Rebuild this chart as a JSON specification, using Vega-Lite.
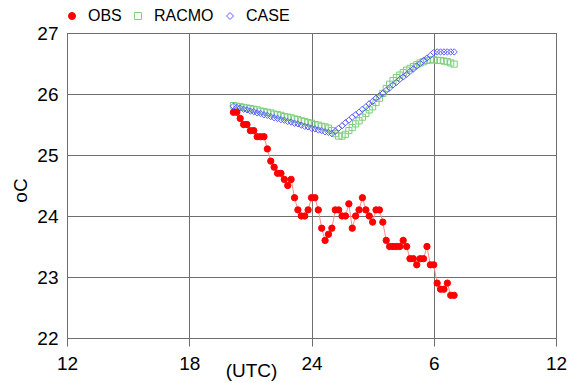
{
  "$schema": "https://vega.github.io/schema/vega-lite/v6.json",
  "width": 489,
  "height": 305,
  "autosize": {"type": "none"},
  "padding": {"left": 67, "top": 33, "right": 13, "bottom": 45},
  "background": "white",
  "config": {
    "font": "Liberation Sans",
    "view": {"stroke": "#555555", "strokeWidth": 1},
    "axis": {"labelColor": "#000000", "titleColor": "#000000", "titleFontWeight": "normal", "labelFontSize": 19, "titleFontSize": 19, "gridColor": "#6e6e6e", "gridOpacity": 1, "gridWidth": 1, "tickColor": "#6e6e6e", "domain": false, "labelFlush": false, "labelOverlap": false, "labelBound": false}
  },
  "data": {
    "values": [
      {"h": 20.167, "OBS": 25.7, "RACMO": 25.81, "CASE": 25.80},
      {"h": 20.333, "OBS": 25.7, "RACMO": 25.80, "CASE": 25.78},
      {"h": 20.5, "OBS": 25.6, "RACMO": 25.79, "CASE": 25.77},
      {"h": 20.667, "OBS": 25.5, "RACMO": 25.78, "CASE": 25.75},
      {"h": 20.833, "OBS": 25.5, "RACMO": 25.77, "CASE": 25.74},
      {"h": 21.0, "OBS": 25.4, "RACMO": 25.76, "CASE": 25.72},
      {"h": 21.167, "OBS": 25.4, "RACMO": 25.75, "CASE": 25.71},
      {"h": 21.333, "OBS": 25.3, "RACMO": 25.74, "CASE": 25.69},
      {"h": 21.5, "OBS": 25.3, "RACMO": 25.72, "CASE": 25.68},
      {"h": 21.667, "OBS": 25.3, "RACMO": 25.71, "CASE": 25.66},
      {"h": 21.833, "OBS": 25.1, "RACMO": 25.70, "CASE": 25.65},
      {"h": 22.0, "OBS": 24.9, "RACMO": 25.69, "CASE": 25.63},
      {"h": 22.167, "OBS": 24.8, "RACMO": 25.67, "CASE": 25.61},
      {"h": 22.333, "OBS": 24.7, "RACMO": 25.66, "CASE": 25.60},
      {"h": 22.5, "OBS": 24.7, "RACMO": 25.65, "CASE": 25.58},
      {"h": 22.667, "OBS": 24.6, "RACMO": 25.63, "CASE": 25.57},
      {"h": 22.833, "OBS": 24.5, "RACMO": 25.62, "CASE": 25.55},
      {"h": 23.0, "OBS": 24.6, "RACMO": 25.61, "CASE": 25.54},
      {"h": 23.167, "OBS": 24.3, "RACMO": 25.59, "CASE": 25.52},
      {"h": 23.333, "OBS": 24.1, "RACMO": 25.58, "CASE": 25.51},
      {"h": 23.5, "OBS": 24.0, "RACMO": 25.56, "CASE": 25.49},
      {"h": 23.667, "OBS": 24.0, "RACMO": 25.55, "CASE": 25.47},
      {"h": 23.833, "OBS": 24.1, "RACMO": 25.53, "CASE": 25.46},
      {"h": 24.0, "OBS": 24.3, "RACMO": 25.52, "CASE": 25.44},
      {"h": 24.167, "OBS": 24.3, "RACMO": 25.50, "CASE": 25.43},
      {"h": 24.333, "OBS": 24.1, "RACMO": 25.49, "CASE": 25.41},
      {"h": 24.5, "OBS": 23.8, "RACMO": 25.47, "CASE": 25.40},
      {"h": 24.667, "OBS": 23.6, "RACMO": 25.46, "CASE": 25.38},
      {"h": 24.833, "OBS": 23.7, "RACMO": 25.44, "CASE": 25.37},
      {"h": 25.0, "OBS": 23.8, "RACMO": 25.40, "CASE": 25.35},
      {"h": 25.167, "OBS": 24.1, "RACMO": 25.35, "CASE": 25.39},
      {"h": 25.333, "OBS": 24.1, "RACMO": 25.31, "CASE": 25.44},
      {"h": 25.5, "OBS": 24.0, "RACMO": 25.31, "CASE": 25.48},
      {"h": 25.667, "OBS": 24.0, "RACMO": 25.34, "CASE": 25.53},
      {"h": 25.833, "OBS": 24.2, "RACMO": 25.40, "CASE": 25.57},
      {"h": 26.0, "OBS": 23.8, "RACMO": 25.45, "CASE": 25.62},
      {"h": 26.167, "OBS": 24.0, "RACMO": 25.51, "CASE": 25.66},
      {"h": 26.333, "OBS": 24.1, "RACMO": 25.56, "CASE": 25.70},
      {"h": 26.5, "OBS": 24.3, "RACMO": 25.62, "CASE": 25.75},
      {"h": 26.667, "OBS": 24.1, "RACMO": 25.68, "CASE": 25.79},
      {"h": 26.833, "OBS": 24.0, "RACMO": 25.74, "CASE": 25.84},
      {"h": 27.0, "OBS": 23.9, "RACMO": 25.79, "CASE": 25.88},
      {"h": 27.167, "OBS": 24.1, "RACMO": 25.86, "CASE": 25.93},
      {"h": 27.333, "OBS": 24.1, "RACMO": 25.93, "CASE": 25.97},
      {"h": 27.5, "OBS": 23.9, "RACMO": 26.01, "CASE": 26.01},
      {"h": 27.667, "OBS": 23.6, "RACMO": 26.09, "CASE": 26.06},
      {"h": 27.833, "OBS": 23.5, "RACMO": 26.16, "CASE": 26.10},
      {"h": 28.0, "OBS": 23.5, "RACMO": 26.22, "CASE": 26.15},
      {"h": 28.167, "OBS": 23.5, "RACMO": 26.27, "CASE": 26.19},
      {"h": 28.333, "OBS": 23.5, "RACMO": 26.31, "CASE": 26.24},
      {"h": 28.5, "OBS": 23.6, "RACMO": 26.35, "CASE": 26.28},
      {"h": 28.667, "OBS": 23.5, "RACMO": 26.39, "CASE": 26.32},
      {"h": 28.833, "OBS": 23.3, "RACMO": 26.42, "CASE": 26.37},
      {"h": 29.0, "OBS": 23.3, "RACMO": 26.45, "CASE": 26.41},
      {"h": 29.167, "OBS": 23.2, "RACMO": 26.48, "CASE": 26.46},
      {"h": 29.333, "OBS": 23.3, "RACMO": 26.51, "CASE": 26.50},
      {"h": 29.5, "OBS": 23.3, "RACMO": 26.53, "CASE": 26.55},
      {"h": 29.667, "OBS": 23.5, "RACMO": 26.55, "CASE": 26.59},
      {"h": 29.833, "OBS": 23.2, "RACMO": 26.56, "CASE": 26.63},
      {"h": 30.0, "OBS": 23.2, "RACMO": 26.56, "CASE": 26.68},
      {"h": 30.167, "OBS": 22.9, "RACMO": 26.55, "CASE": 26.69},
      {"h": 30.333, "OBS": 22.8, "RACMO": 26.55, "CASE": 26.69},
      {"h": 30.5, "OBS": 22.8, "RACMO": 26.54, "CASE": 26.69},
      {"h": 30.667, "OBS": 22.9, "RACMO": 26.53, "CASE": 26.69},
      {"h": 30.833, "OBS": 22.7, "RACMO": 26.51, "CASE": 26.69},
      {"h": 31.0, "OBS": 22.7, "RACMO": 26.49, "CASE": 26.69}
    ]
  },
  "transform": [{"fold": ["OBS", "RACMO", "CASE"], "as": ["series", "temp"]}],
  "encoding": {
    "x": {
      "field": "h", "type": "quantitative",
      "scale": {"domain": [12, 36], "nice": false, "zero": false},
      "axis": {"values": [12, 18, 24, 30, 36], "labelExpr": "datum.value > 24 ? datum.value - 24 : datum.value", "grid": true, "tickSize": 8, "labelPadding": 8, "title": "(UTC)", "titleX": 184, "titleY": 38, "titleAlign": "center", "titleBaseline": "alphabetic"}
    },
    "y": {
      "field": "temp", "type": "quantitative",
      "scale": {"domain": [22, 27], "nice": false, "zero": false},
      "axis": {"values": [22, 23, 24, 25, 26, 27], "grid": true, "tickSize": 0, "labelPadding": 9, "title": "oC", "titleX": -47, "titleY": 157, "titleAngle": -90, "titleAlign": "center", "titleBaseline": "middle"}
    }
  },
  "layer": [
    {
      "transform": [{"filter": "datum.series === 'RACMO'"}],
      "mark": {"type": "point", "size": 38, "strokeWidth": 1, "opacity": 1},
      "encoding": {
        "stroke": {"field": "series", "type": "nominal", "scale": {"domain": ["OBS", "RACMO", "CASE"], "range": ["#ff0000", "#7ccf7c", "#5c5cff"]}, "legend": {"title": null, "orient": "none", "legendX": -3, "legendY": -25, "direction": "horizontal", "columns": 3, "labelFontSize": 16, "symbolSize": 49, "labelOffset": 8, "columnPadding": 8, "padding": 0, "symbolStrokeWidth": 1, "labelColor": "#000000"}},
        "fill": {"field": "series", "type": "nominal", "scale": {"domain": ["OBS", "RACMO", "CASE"], "range": ["#ff0000", "transparent", "transparent"]}, "legend": {"title": null, "orient": "none", "legendX": -3, "legendY": -25, "direction": "horizontal", "columns": 3, "labelFontSize": 16, "symbolSize": 49, "labelOffset": 8, "columnPadding": 8, "padding": 0, "symbolStrokeWidth": 1, "labelColor": "#000000"}},
        "shape": {"field": "series", "type": "nominal", "scale": {"domain": ["OBS", "RACMO", "CASE"], "range": ["circle", "square", "diamond"]}, "legend": {"title": null, "orient": "none", "legendX": -3, "legendY": -25, "direction": "horizontal", "columns": 3, "labelFontSize": 16, "symbolSize": 49, "labelOffset": 8, "columnPadding": 8, "padding": 0, "symbolStrokeWidth": 1, "labelColor": "#000000"}}
      }
    },
    {
      "transform": [{"filter": "datum.series === 'CASE'"}],
      "mark": {"type": "point", "size": 40, "strokeWidth": 1, "opacity": 1},
      "encoding": {
        "stroke": {"field": "series", "type": "nominal"},
        "fill": {"field": "series", "type": "nominal"},
        "shape": {"field": "series", "type": "nominal"}
      }
    },
    {
      "transform": [{"filter": "datum.series === 'OBS'"}],
      "mark": {"type": "line", "color": "#ff8a8a", "strokeWidth": 1},
      "encoding": {}
    },
    {
      "transform": [{"filter": "datum.series === 'OBS'"}],
      "mark": {"type": "point", "size": 40, "strokeWidth": 1, "opacity": 1},
      "encoding": {
        "stroke": {"field": "series", "type": "nominal"},
        "fill": {"field": "series", "type": "nominal"},
        "shape": {"field": "series", "type": "nominal"}
      }
    }
  ]
}
